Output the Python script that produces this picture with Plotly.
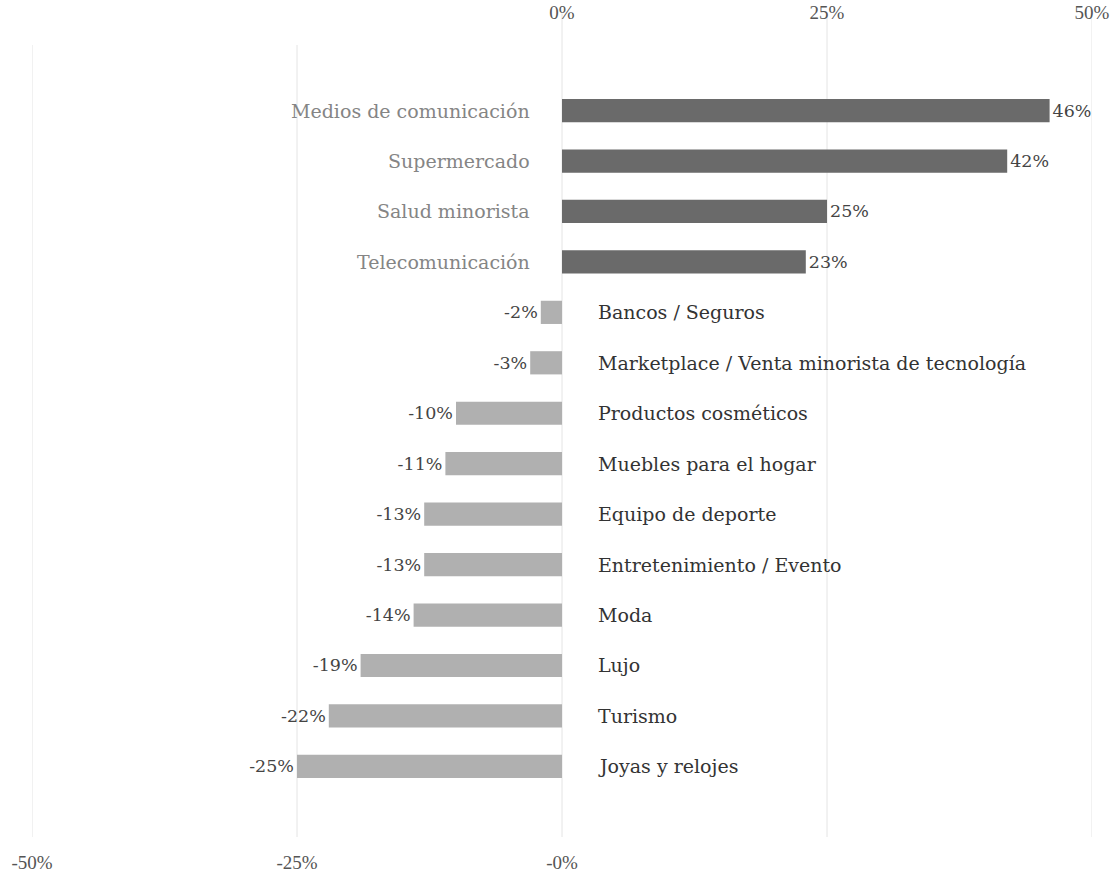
import plotly.graph_objects as go

# Change in spending by sector (%)
sectors = [
    "Medios de comunicación",
    "Supermercado",
    "Salud minorista",
    "Telecomunicación",
    "Bancos / Seguros",
    "Marketplace / Venta minorista de tecnología",
    "Productos cosméticos",
    "Muebles para el hogar",
    "Equipo de deporte",
    "Entretenimiento / Evento",
    "Moda",
    "Lujo",
    "Turismo",
    "Joyas y relojes",
]
changes = [46, 42, 25, 23, -2, -3, -10, -11, -13, -13, -14, -19, -22, -25]

top_ticks = [0, 25, 50]
top_ticktext = ["0%", "25%", "50%"]
bottom_ticks = [-50, -25, 0]
bottom_ticktext = ["-50%", "-25%", "-0%"]

LABEL_FONT = "DejaVu Serif"
TICK_FONT = "Liberation Serif"
POS_COLOR = "#6a6a6a"
NEG_COLOR = "#b0b0b0"
GRID_COLOR = "#e4e4e4"

pos_sec = [s for s, v in zip(sectors, changes) if v >= 0]
pos_val = [v for v in changes if v >= 0]
neg_sec = [s for s, v in zip(sectors, changes) if v < 0]
neg_val = [v for v in changes if v < 0]

fig = go.Figure()

# vertical gridlines; the top-axis lines run up toward their labels
for t in sorted(set(top_ticks) | set(bottom_ticks)):
    fig.add_shape(type="line", xref="x", yref="paper", x0=t, x1=t,
                  y0=0, y1=1.04 if t in top_ticks else 1.0,
                  line=dict(color=GRID_COLOR, width=1), layer="below")

value_font = dict(family=LABEL_FONT, size=17.5, color="#444444")
fig.add_trace(go.Bar(
    y=pos_sec, x=pos_val, orientation="h",
    marker=dict(color=POS_COLOR, line=dict(width=0)),
    width=0.46,
    text=[f"{v}%" for v in pos_val], textposition="outside",
    textfont=value_font, cliponaxis=False, hoverinfo="skip",
))
fig.add_trace(go.Bar(
    y=neg_sec, x=neg_val, orientation="h",
    marker=dict(color=NEG_COLOR, line=dict(width=0)),
    width=0.46,
    text=[f"{v}%" for v in neg_val], textposition="outside",
    textfont=value_font, cliponaxis=False, hoverinfo="skip",
))
# invisible trace to activate the top axis
fig.add_trace(go.Scatter(x=[0], y=[sectors[0]], xaxis="x2", mode="markers",
                         marker=dict(opacity=0), showlegend=False, hoverinfo="skip"))

# sector names beside the zero line
for s, v in zip(sectors, changes):
    if v >= 0:
        fig.add_annotation(x=0, y=s, text=s, showarrow=False, xanchor="right",
                           xshift=-30, font=dict(family=LABEL_FONT, size=19, color="#858585"))
    else:
        fig.add_annotation(x=0, y=s, text=s, showarrow=False, xanchor="left",
                           xshift=34, font=dict(family=LABEL_FONT, size=19, color="#333333"))

tick_font = dict(family=TICK_FONT, size=19, color="#555555")
n = len(sectors)
fig.update_layout(
    width=1120, height=875,
    margin=dict(l=32, r=28, t=45, b=38),
    paper_bgcolor="white", plot_bgcolor="white",
    showlegend=False, barmode="overlay",
    xaxis=dict(range=[-50, 50], tickvals=bottom_ticks, ticktext=bottom_ticktext,
               showgrid=False, zeroline=False, showline=False, automargin=False,
               ticks="outside", ticklen=8, tickcolor="rgba(0,0,0,0)",
               tickfont=tick_font),
    xaxis2=dict(range=[-50, 50], overlaying="x", side="top",
                tickvals=top_ticks, ticktext=top_ticktext,
                showgrid=False, zeroline=False, showline=False, automargin=False,
                ticks="outside", ticklen=17, tickcolor="rgba(0,0,0,0)",
                tickfont=tick_font),
    yaxis=dict(type="category", categoryarray=sectors,
               range=[n - 1 + 1.4, -1.3], showticklabels=False, automargin=False,
               showgrid=False, zeroline=False, showline=False),
)

fig.write_html("out.html")
